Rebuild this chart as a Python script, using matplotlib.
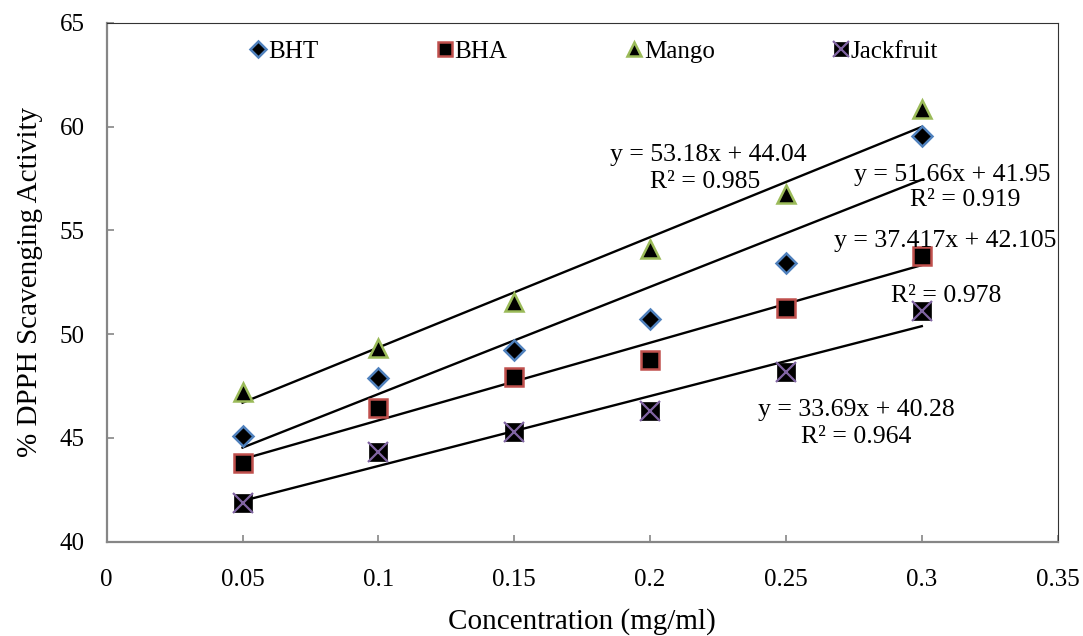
import matplotlib
matplotlib.use("Agg")
import matplotlib.pyplot as plt
from matplotlib.legend_handler import HandlerTuple
import numpy as np

concentration = [0.05, 0.10, 0.15, 0.20, 0.25, 0.30]
bht = [45.09, 47.90, 49.24, 50.72, 53.45, 59.55]
bha = [43.78, 46.43, 47.95, 48.76, 51.28, 53.78]
mango = [47.23, 49.32, 51.57, 54.11, 56.74, 60.84]
jackfruit = [41.85, 44.34, 45.30, 46.30, 48.16, 51.13]

series_names = ["BHT", "BHA", "Mango", "Jackfruit"]
slopes = [51.66, 37.417, 53.18, 33.69]
intercepts = [41.95, 42.105, 44.04, 40.28]
eq_texts = ["y = 51.66x + 41.95", "y = 37.417x + 42.105",
            "y = 53.18x + 44.04", "y = 33.69x + 40.28"]
r2_texts = ["R\u00b2 = 0.919", "R\u00b2 = 0.978",
            "R\u00b2 = 0.985", "R\u00b2 = 0.964"]

xticks = [0, 0.05, 0.1, 0.15, 0.2, 0.25, 0.3, 0.35]
xtick_labels = ["0", "0.05", "0.1", "0.15", "0.2", "0.25", "0.3", "0.35"]
yticks = [40, 45, 50, 55, 60, 65]

plt.rcParams['font.family'] = ['Liberation Serif', 'DejaVu Serif']

fig = plt.figure(figsize=(10.83, 6.36), dpi=100)
ax = fig.add_axes([0.0985, 0.1483, 0.8781, 0.8156])

x = np.array(concentration)

# trendlines
for m, b in zip(slopes, intercepts):
    ax.plot(x[[0, -1]], m * x[[0, -1]] + b, color='black', lw=1.7, zorder=2)

h_bht, = ax.plot(x, bht, ls='none', marker='D', ms=10, mfc='black',
                 mec='#4F81BD', mew=1.8, zorder=3)
h_bha, = ax.plot(x, bha, ls='none', marker='s', ms=13, mfc='black',
                 mec='#C0504D', mew=1.8, zorder=3)
h_mango, = ax.plot(x, mango, ls='none', marker='^', ms=13, mfc='black',
                   mec='#9BBB59', mew=1.8, zorder=3)
h_jk1, = ax.plot(x, jackfruit, ls='none', marker='s', ms=13, mfc='black',
                 mec='black', mew=0.5, zorder=3)
h_jk2, = ax.plot(x, jackfruit, ls='none', marker='x', ms=14, mec='#8064A2',
                 mew=1.6, zorder=4)

# equation labels (trendline annotations)
fs_eq = 18.5
ax.text(0.2213, 58.64, eq_texts[2], ha='center', va='center', fontsize=fs_eq)
ax.text(0.2202, 57.34, r2_texts[2], ha='center', va='center', fontsize=fs_eq)
ax.text(0.3111, 57.67, eq_texts[0], ha='center', va='center', fontsize=fs_eq)
ax.text(0.3159, 56.47, r2_texts[0], ha='center', va='center', fontsize=fs_eq)
ax.text(0.3085, 54.49, eq_texts[1], ha='center', va='center', fontsize=fs_eq)
ax.text(0.3088, 51.84, r2_texts[1], ha='center', va='center', fontsize=fs_eq)
ax.text(0.2758, 46.35, eq_texts[3], ha='center', va='center', fontsize=fs_eq)
ax.text(0.2758, 45.05, r2_texts[3], ha='center', va='center', fontsize=fs_eq)

ax.set_xlim(0, 0.35)
ax.set_ylim(40, 65)
ax.set_xticks(xticks)
ax.set_xticklabels(xtick_labels)
ax.set_yticks(yticks)
ax.tick_params(axis='both', direction='in', length=5, width=1.2,
               color='#868686', labelsize=18)
ax.tick_params(axis='x', pad=20)
ax.tick_params(axis='y', pad=16)

for side in ['left', 'bottom']:
    ax.spines[side].set_color('#868686')
    ax.spines[side].set_linewidth(1.6)
for side in ['top', 'right']:
    ax.spines[side].set_color('#333333')
    ax.spines[side].set_linewidth(0.8)

ax.set_xlabel("Concentration (mg/ml)", fontsize=21, labelpad=12)
ax.set_ylabel("% DPPH Scavenging Activity", fontsize=21, labelpad=12)

ax.legend([h_bht, h_bha, h_mango, (h_jk1, h_jk2)], series_names,
          handler_map={tuple: HandlerTuple(ndivide=1, pad=0)},
          loc='upper center', bbox_to_anchor=(0.513, 1.01), ncol=4,
          frameon=False, fontsize=18, handlelength=0.6, handletextpad=0.1,
          columnspacing=4.75, markerscale=0.8)

fig.savefig("out.png", dpi=100)
